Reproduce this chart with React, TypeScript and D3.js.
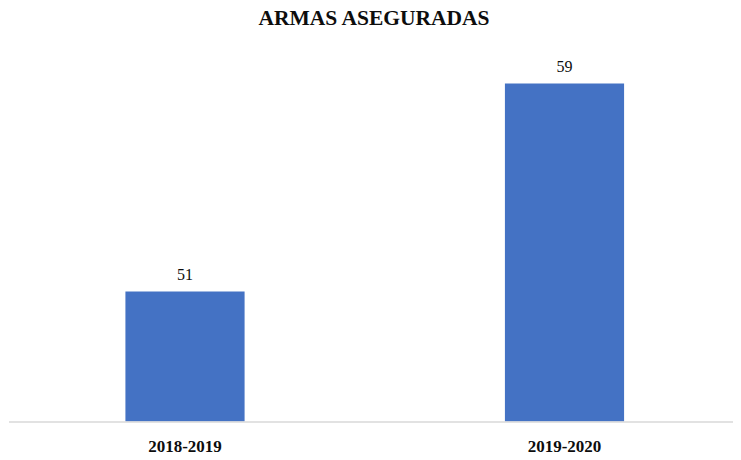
import React, { useEffect, useRef } from "react";
import * as d3 from "d3";

const title = "ARMAS ASEGURADAS";
const periods = ["2018-2019", "2019-2020"];
const values = [51, 59];

const App = () => {
  const svgRef = useRef<SVGSVGElement>(null);

  useEffect(() => {
    const svg = d3.select(svgRef.current);
    svg.selectAll("*").remove();
    const width = 741;
    const height = 460;
    const font = "'Liberation Serif', 'DejaVu Serif', serif";

    const x = d3
      .scaleBand()
      .domain(periods)
      .range([-4.75, 754.25])
      .paddingInner(0.686)
      .paddingOuter(0.343);

    const y = d3.scaleLinear().domain([46, 60]).range([421.5, 57.5]);

    svg
      .append("rect")
      .attr("width", width)
      .attr("height", height)
      .attr("fill", "#ffffff");

    svg
      .append("text")
      .attr("x", 374)
      .attr("y", 25)
      .attr("text-anchor", "middle")
      .style("font-family", font)
      .style("font-size", "21.5px")
      .style("font-weight", "bold")
      .attr("fill", "#0d0d0d")
      .text(title);

    const data = periods.map((p, i) => ({ p, v: values[i] }));

    // bars
    svg
      .selectAll(".bar")
      .data(data)
      .join("rect")
      .attr("class", "bar")
      .attr("x", (d) => x(d.p)!)
      .attr("y", (d) => y(d.v))
      .attr("width", x.bandwidth())
      .attr("height", (d) => y(46) - y(d.v))
      .attr("fill", "#4472c4");

    // axis line
    svg
      .append("line")
      .attr("x1", 9)
      .attr("x2", 733)
      .attr("y1", 422)
      .attr("y2", 422)
      .attr("stroke", "#d9d9d9")
      .attr("stroke-width", 1.5);

    // value labels
    svg
      .selectAll(".val")
      .data(data)
      .join("text")
      .attr("class", "val")
      .attr("x", (d) => x(d.p)! + x.bandwidth() / 2)
      .attr("y", (d) => y(d.v) - 12)
      .attr("text-anchor", "middle")
      .style("font-family", font)
      .style("font-size", "16px")
      .attr("fill", "#0d0d0d")
      .text((d) => d.v);

    // category labels
    svg
      .selectAll(".cat")
      .data(data)
      .join("text")
      .attr("class", "cat")
      .attr("x", (d) => x(d.p)! + x.bandwidth() / 2)
      .attr("y", 452)
      .attr("text-anchor", "middle")
      .style("font-family", font)
      .style("font-size", "17px")
      .style("font-weight", "bold")
      .attr("fill", "#0d0d0d")
      .text((d) => d.p);
  }, []);

  return (
    <svg
      ref={svgRef}
      width={741}
      height={460}
      style={{ position: "absolute", left: 0, top: 0 }}
    ></svg>
  );
};

export default App;
